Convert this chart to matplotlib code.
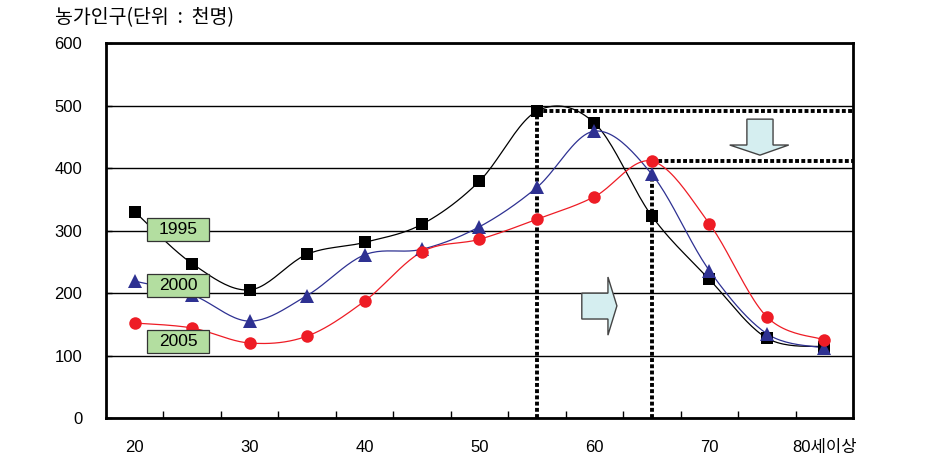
import numpy as np
import matplotlib
matplotlib.use('Agg')
import matplotlib.pyplot as plt
from matplotlib.patches import Polygon, Rectangle

plt.rcParams['font.family'] = ['Liberation Sans', 'Noto Sans CJK KR', 'DejaVu Sans']

# 연령대별 농가인구 (천명)
ages = [20, 25, 30, 35, 40, 45, 50, 55, 60, 65, 70, 75, 80]
xlabels = ['20', '', '30', '', '40', '', '50', '', '60', '', '70', '', '80세이상']
pop_1995 = [330, 247, 205, 262, 281, 310, 379, 491, 472, 323, 222, 128, 114]
pop_2000 = [219, 197, 155, 196, 261, 270, 306, 369, 459, 390, 236, 135, 112]
pop_2005 = [152, 144, 120, 131, 187, 266, 286, 318, 354, 411, 311, 162, 125]


def smooth(x, y, n=24):
    # 엑셀식 부드러운 선 (Catmull-Rom 베지어)
    x = np.asarray(x, float)
    y = np.asarray(y, float)
    xs, ys = [], []
    for i in range(len(x) - 1):
        i0 = max(i - 1, 0)
        i3 = min(i + 2, len(x) - 1)
        p0 = np.array([x[i0], y[i0]])
        p1 = np.array([x[i], y[i]])
        p2 = np.array([x[i + 1], y[i + 1]])
        p3 = np.array([x[i3], y[i3]])
        c1 = p1 + (p2 - p0) / 6
        c2 = p2 - (p3 - p1) / 6
        t = np.linspace(0, 1, n)[:, None]
        pts = ((1 - t) ** 3 * p1 + 3 * (1 - t) ** 2 * t * c1
               + 3 * (1 - t) * t ** 2 * c2 + t ** 3 * p2)
        xs.extend(pts[:, 0])
        ys.extend(pts[:, 1])
    return xs, ys


fig = plt.figure(figsize=(9.32, 4.68), dpi=100)
ax = fig.add_axes([0.1137, 0.1068, 0.8015, 0.8013])

xpos = np.arange(len(ages))

series = [
    (pop_1995, 'black', 's', 8.5),
    (pop_2000, '#2e3192', '^', 9.5),
    (pop_2005, '#ee1c25', 'o', 9),
]
for vals, col, mk, ms in series:
    sx, sy = smooth(xpos, vals)
    ax.plot(sx, sy, color=col, lw=0.9, zorder=3)
    ax.plot(xpos, vals, ls='none', marker=mk, ms=ms, color=col,
            markeredgewidth=0, zorder=5)

# 점선 (최고점 표시)
i55 = ages.index(55)
i65 = ages.index(65)
dot = dict(color='black', lw=2.8, ls=(0, (1, 0.6)), zorder=4)
ax.plot([i55, len(ages) - 0.5], [pop_1995[i55]] * 2, **dot)
ax.plot([i65, len(ages) - 0.5], [pop_2005[i65]] * 2, **dot)
ax.plot([i55, i55], [0, pop_1995[i55]], **dot)
ax.plot([i65, i65], [0, pop_2000[i65]], **dot)

ax.set_xlim(-0.5, len(ages) - 0.5)
ax.set_ylim(0, 600)
ax.set_yticks(range(0, 601, 100))
ax.yaxis.grid(True, color='black', lw=1)
ax.set_axisbelow(True)

ax.set_xticks(np.arange(0.5, len(ages) - 1, 1))
ax.set_xticklabels([])
ax.set_xticks(xpos, minor=True)
ax.set_xticklabels(xlabels, minor=True, fontsize=12)
ax.tick_params(axis='x', which='major', direction='in', length=5, width=1)
ax.tick_params(axis='x', which='minor', length=0, pad=16)
ax.tick_params(axis='y', direction='in', length=4, width=1, labelsize=12, pad=17)

for s in ax.spines.values():
    s.set_linewidth(2)

# 범례 상자
boxes = [('1995', 0.503), ('2000', 0.353), ('2005', 0.205)]
for txt, yc in boxes:
    ax.add_patch(Rectangle((0.055, yc - 0.0307), 0.083, 0.0613, transform=ax.transAxes,
                           fc='#b3dea0', ec='#333333', lw=0.9, zorder=6))
    ax.text(0.0965, yc, txt, transform=ax.transAxes, ha='center', va='center',
            fontsize=12.5, zorder=7)

# 화살표
down = [(0.858, 0.797), (0.893, 0.797), (0.893, 0.728), (0.914, 0.728),
        (0.8755, 0.701), (0.835, 0.728), (0.858, 0.728)]
right = [(0.637, 0.333), (0.672, 0.333), (0.672, 0.376), (0.684, 0.299),
         (0.672, 0.221), (0.672, 0.264), (0.637, 0.264)]
for pts in (down, right):
    ax.add_patch(Polygon(pts, closed=True, transform=ax.transAxes,
                         fc='#d5eef0', ec='#444444', lw=1, zorder=6))

fig.text(0.059, 0.962, '농가인구(단위  :  천명)', fontsize=14, va='center', ha='left',
         family=['Noto Sans CJK KR', 'DejaVu Sans'])

fig.savefig('out.png', dpi=100)
